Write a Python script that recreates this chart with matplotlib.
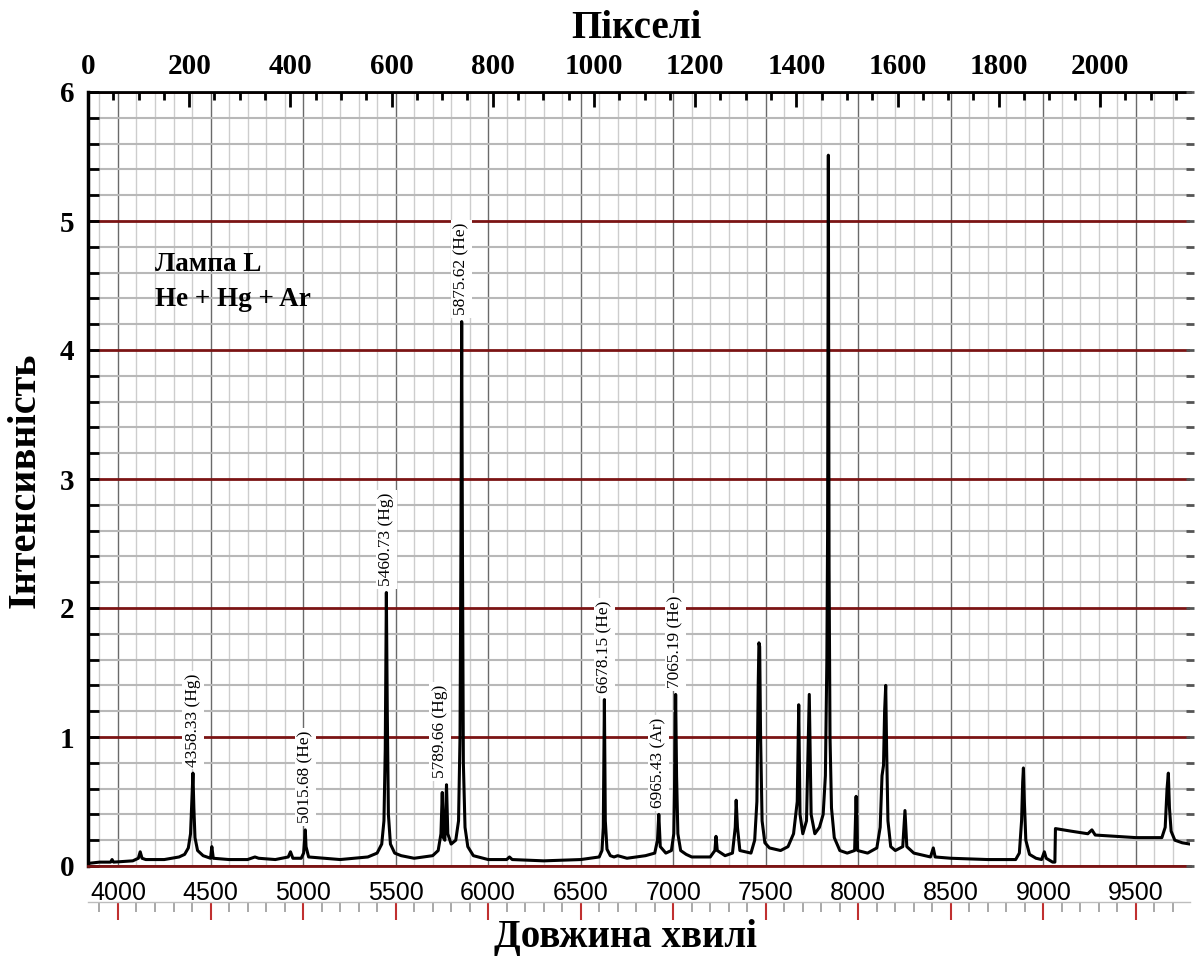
import numpy as np
import matplotlib
matplotlib.use("Agg")
import matplotlib.pyplot as plt
from matplotlib.ticker import MultipleLocator

# traced spectrum (wavelength on the plotted axis, intensity)
WAVE = [3838, 3900, 3960, 3968, 3976, 4080, 4110, 4120, 4130, 4150, 4250, 4330, 4360, 4380,
        4392, 4399, 4405, 4410, 4416, 4430, 4460, 4500, 4507, 4515, 4600, 4700, 4740, 4760,
        4850, 4920, 4932, 4945, 4990, 5003, 5008, 5012, 5016, 5030, 5200, 5350, 5400, 5425,
        5437, 5444, 5450, 5455, 5461, 5472, 5495, 5530, 5600, 5700, 5730, 5745, 5752, 5758,
        5766, 5775, 5782, 5800, 5825, 5840, 5848, 5853, 5857, 5861, 5866, 5875, 5890, 5920,
        6000, 6100, 6115, 6130, 6300, 6500, 6600, 6615, 6622, 6628, 6633, 6642, 6660, 6680,
        6700, 6750, 6800, 6850, 6900, 6915, 6922, 6930, 6960, 6990, 7003, 7008, 7013, 7018,
        7025, 7040, 7070, 7100, 7200, 7225, 7231, 7238, 7280, 7320, 7335, 7340, 7347, 7360,
        7420, 7440, 7452, 7459, 7463, 7467, 7472, 7480, 7495, 7520, 7580, 7620, 7650, 7670,
        7678, 7685, 7700, 7720, 7735, 7745, 7765, 7790, 7810, 7822, 7830, 7834, 7838, 7842,
        7847, 7855, 7870, 7900, 7940, 7980, 7988, 7996, 8050, 8100, 8118, 8128, 8136, 8142,
        8148, 8153, 8160, 8175, 8200, 8240, 8252, 8262, 8300, 8390, 8405, 8415, 8500, 8700,
        8850, 8870, 8882, 8888, 8892, 8897, 8905, 8925, 8960, 8990, 9005, 9015, 9050, 9062,
        9065, 9150, 9240, 9262, 9280, 9500, 9640, 9658, 9668, 9675, 9681, 9690, 9710, 9750,
        9792]
INTENS = [0.02, 0.03, 0.03, 0.05, 0.03, 0.04, 0.06, 0.11, 0.06, 0.05, 0.05, 0.07, 0.09, 0.14,
          0.25, 0.50, 0.72, 0.45, 0.22, 0.12, 0.08, 0.06, 0.15, 0.06, 0.05, 0.05, 0.07, 0.06,
          0.05, 0.07, 0.11, 0.06, 0.06, 0.10, 0.20, 0.28, 0.15, 0.07, 0.05, 0.07, 0.10, 0.17,
          0.35, 0.90, 2.12, 1.20, 0.40, 0.17, 0.10, 0.08, 0.06, 0.08, 0.12, 0.25, 0.57, 0.22,
          0.20, 0.63, 0.25, 0.17, 0.20, 0.35, 1.00, 2.50, 4.22, 2.50, 0.80, 0.30, 0.15, 0.08,
          0.05, 0.05, 0.07, 0.05, 0.04, 0.05, 0.07, 0.12, 0.30, 1.29, 0.35, 0.13, 0.08, 0.07,
          0.08, 0.06, 0.07, 0.08, 0.10, 0.20, 0.40, 0.15, 0.10, 0.12, 0.25, 0.70, 1.33, 0.70,
          0.25, 0.12, 0.09, 0.07, 0.07, 0.12, 0.23, 0.12, 0.08, 0.10, 0.30, 0.51, 0.30, 0.12,
          0.10, 0.20, 0.50, 1.40, 1.73, 1.70, 1.00, 0.35, 0.18, 0.14, 0.12, 0.15, 0.25, 0.50,
          1.25, 0.40, 0.25, 0.35, 1.33, 0.40, 0.25, 0.30, 0.40, 0.70, 1.60, 2.60, 5.51, 2.30,
          1.00, 0.45, 0.22, 0.12, 0.10, 0.12, 0.54, 0.12, 0.10, 0.14, 0.30, 0.70, 0.78, 1.20,
          1.40, 0.90, 0.35, 0.15, 0.12, 0.15, 0.43, 0.15, 0.10, 0.07, 0.14, 0.07, 0.06, 0.05,
          0.05, 0.10, 0.35, 0.65, 0.76, 0.50, 0.20, 0.09, 0.06, 0.05, 0.11, 0.06, 0.03, 0.03,
          0.29, 0.27, 0.25, 0.28, 0.24, 0.22, 0.22, 0.30, 0.60, 0.72, 0.45, 0.27, 0.20, 0.18,
          0.17]

# annotated lines: text, x position on plot, peak height
LINE_TEXT = ["4358.33 (Hg)", "5015.68 (He)", "5460.73 (Hg)", "5789.66 (Hg)",
             "5875.62 (He)", "6678.15 (He)", "6965.43 (Ar)", "7065.19 (He)"]
LINE_X = [4405, 5012, 5450, 5740, 5857, 6628, 6922, 7013]
LINE_PEAK = [0.72, 0.28, 2.12, 0.63, 4.22, 1.29, 0.40, 1.33]

SERIF = "Liberation Serif"
SANS = "Liberation Sans"
MAROON = "#7b1414"

fig = plt.figure(figsize=(11.95, 9.58), dpi=100)
W, H = 1195, 958
ax = fig.add_axes([88 / W, (H - 866) / H, 1102 / W, 774 / H])
ax.set_xlim(3838, 9792)
ax.set_ylim(0, 6)

ax.xaxis.set_major_locator(MultipleLocator(500))
ax.xaxis.set_minor_locator(MultipleLocator(100))
ax.yaxis.set_major_locator(MultipleLocator(1))
ax.yaxis.set_minor_locator(MultipleLocator(0.2))
ax.grid(which="minor", axis="x", color="#cdcdcd", lw=1.0)
ax.grid(which="major", axis="x", color="#6a6a6a", lw=1.0)
ax.grid(which="minor", axis="y", color="#b8b8b8", lw=1.5)
ax.grid(which="major", axis="y", color=MAROON, lw=2.0)
ax.set_axisbelow(True)

ax.plot(WAVE, INTENS, color="black", lw=2.2, zorder=3)

for txt, x, pk in zip(LINE_TEXT, LINE_X, LINE_PEAK):
    ax.text(x, pk + 0.05, txt, rotation=90, ha="center", va="bottom", fontsize=12.5,
            family=SERIF, zorder=4,
            bbox=dict(boxstyle="square,pad=0.15", fc="white", ec="none"))

ax.text(4200, 4.66, "Лампа L", fontsize=19.5, fontweight="bold", family=SERIF,
        ha="left", va="center", zorder=4)
ax.text(4200, 4.39, "He + Hg + Ar", fontsize=19.5, fontweight="bold", family=SERIF,
        ha="left", va="center", zorder=4)

for s in ["right", "top"]:
    ax.spines[s].set_visible(False)
ax.spines["left"].set_linewidth(2.5)
ax.spines["bottom"].set_color(MAROON)
ax.spines["bottom"].set_linewidth(2.0)
ax.tick_params(axis="x", which="both", length=0, pad=11, labelsize=18)
ax.tick_params(axis="y", which="both", direction="in", length=8, width=2, pad=10,
               labelsize=21)
for lb in ax.get_xticklabels():
    lb.set_family(SANS)
for lb in ax.get_yticklabels():
    lb.set_family(SERIF)
    lb.set_fontweight("bold")

# pixel axis on top
ax2 = ax.twiny()
ax2.set_xlim(0, 2178)
ax2.xaxis.set_major_locator(MultipleLocator(200))
ax2.xaxis.set_minor_locator(MultipleLocator(50))
ax2.xaxis.set_major_formatter(lambda v, p: f"{v:.0f}" if v <= 2000 else "")
ax2.tick_params(axis="x", which="major", direction="in", length=11, width=2, pad=9,
                labelsize=21)
ax2.tick_params(axis="x", which="minor", direction="in", length=6, width=2)
for s in ["left", "right", "bottom"]:
    ax2.spines[s].set_visible(False)
ax2.spines["top"].set_linewidth(2.0)
for lb in ax2.get_xticklabels():
    lb.set_family(SERIF)
    lb.set_fontweight("bold")

# dashes on the right edge
ax3 = ax.twinx()
ax3.set_ylim(0, 6)
ax3.yaxis.set_major_locator(MultipleLocator(0.2))
ax3.tick_params(axis="y", direction="inout", length=6, width=2, color="#555555",
                labelright=False)
for s in ["left", "right", "bottom", "top"]:
    ax3.spines[s].set_visible(False)

# second tick row below the wavelength labels
axb = fig.add_axes([88 / W, (H - 920) / H, 1102 / W, 18 / H])
axb.set_xlim(3838, 9792)
axb.patch.set_visible(False)
axb.set_yticks([])
axb.xaxis.set_ticks_position("top")
axb.xaxis.set_major_locator(MultipleLocator(500))
axb.xaxis.set_minor_locator(MultipleLocator(100))
axb.tick_params(axis="x", which="major", direction="in", length=13, width=1.5,
                color="#c03030", labeltop=False)
axb.tick_params(axis="x", which="minor", direction="in", length=7, width=1.2,
                color="#9a9a9a", labeltop=False)
for s in ["left", "right", "bottom"]:
    axb.spines[s].set_visible(False)
axb.spines["top"].set_color("#bdbdbd")
axb.spines["top"].set_linewidth(1.0)

fig.text(636 / W, 1 - 28 / H, "Пікселі", fontsize=28, fontweight="bold", family=SERIF,
         ha="center", va="center")
fig.text(25 / W, 1 - 480 / H, "Інтенсивність", fontsize=29, fontweight="bold",
         family=SERIF, rotation=90, ha="center", va="center")
fig.text(625 / W, 1 - 937 / H, "Довжина хвилі", fontsize=28, fontweight="bold",
         family=SERIF, ha="center", va="center")

fig.savefig("out.png", dpi=100)
